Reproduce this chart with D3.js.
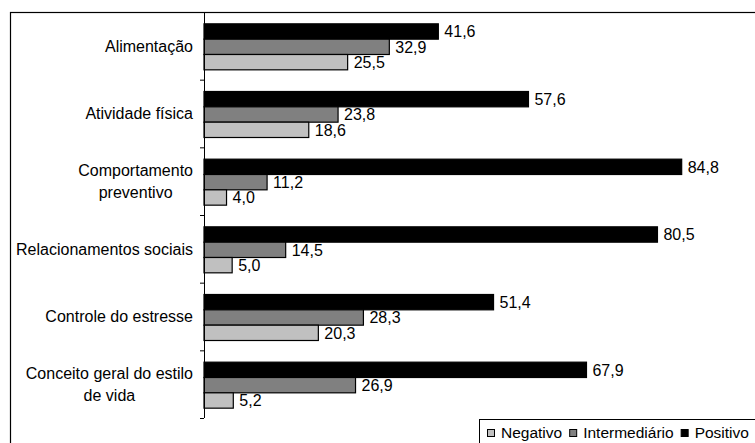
<!DOCTYPE html>
<html>
<head>
<meta charset="utf-8">
<script src="https://cdn.jsdelivr.net/npm/d3@7"></script>
<style>
  body { margin: 0; background: #fff; }
  text { font-family: "Liberation Sans", Arial, sans-serif; font-size: 16px; fill: #000; }
  text.leg { font-size: 15.5px; }
</style>
</head>
<body>
<svg id="chart" width="755" height="443"></svg>
<script>
// categories, top to bottom (line breaks as in the picture)
let categories = [
    ["Alimentação"],
    ["Atividade física"],
    ["Comportamento", "preventivo"],
    ["Relacionamentos sociais"],
    ["Controle do estresse"],
    ["Conceito geral do estilo", "de vida"]
];
let seriesNames = ["Positivo", "Intermediário", "Negativo"];
let positivo = [41.6, 57.6, 84.8, 80.5, 51.4, 67.9];
let intermediario = [32.9, 23.8, 11.2, 14.5, 28.3, 26.9];
let negativo = [25.5, 18.6, 4.0, 5.0, 20.3, 5.2];
let legendOrder = ["Negativo", "Intermediário", "Positivo"];

let colors = { "Positivo": "#000000", "Intermediário": "#808080", "Negativo": "#c0c0c0" };
let values = { "Positivo": positivo, "Intermediário": intermediario, "Negativo": negativo };

let svg = d3.select('#chart');

// outer frame, runs off the right and bottom of the picture
svg.append('rect')
    .attr('x', 10.5).attr('y', 12.5)
    .attr('width', 900).attr('height', 600)
    .attr('fill', 'none').attr('stroke', '#000').attr('stroke-width', 1.2);

let axisX = 204;
let x = d3.scaleLinear().domain([0, 100]).range([axisX, axisX + 563.3]);
let idx = d3.range(categories.length);
let y0 = d3.scaleBand().domain(idx).range([12, 418]);
let pad = (y0.bandwidth() - 46) / 2;
let y1 = d3.scaleBand().domain(seriesNames).range([pad + 1, y0.bandwidth() - pad + 1]);

let groups = svg.append('g').selectAll('g')
    .data(idx)
    .join('g')
    .attr('transform', i => `translate(0,${y0(i)})`);

groups.selectAll('rect')
    .data(i => seriesNames.map(s => ({ s: s, v: values[s][i] })))
    .join('rect')
    .attr('x', x(0))
    .attr('y', d => y1(d.s))
    .attr('width', d => x(d.v) - x(0))
    .attr('height', y1.bandwidth())
    .attr('fill', d => colors[d.s])
    .attr('stroke', '#000')
    .attr('stroke-width', 1.2);

groups.selectAll('text.val')
    .data(i => seriesNames.map(s => ({ s: s, v: values[s][i] })))
    .join('text')
    .classed('val', true)
    .attr('x', d => x(d.v) + 6)
    .attr('y', d => y1(d.s) + y1.bandwidth() / 2)
    .attr('dy', '0.36em')
    .text(d => d.v.toFixed(1).replace('.', ','));

// category labels: block right-aligned, lines centred
let lineH = 22;
groups.append('text')
    .classed('cat', true)
    .attr('text-anchor', 'middle')
    .each(function (i) {
        let lines = categories[i];
        let t = d3.select(this);
        let mid = y0.bandwidth() / 2;
        lines.forEach((ln, k) => {
            t.append('tspan')
                .attr('x', 0)
                .attr('y', mid + (k - (lines.length - 1) / 2) * lineH)
                .attr('dy', '0.36em')
                .text(ln);
        });
        let w = d3.max(t.selectAll('tspan').nodes(), n => n.getComputedTextLength());
        t.selectAll('tspan').attr('x', 193 - w / 2);
    });

// axis line and boundary ticks
svg.append('line')
    .attr('x1', axisX + 0.5).attr('x2', axisX + 0.5)
    .attr('y1', 12).attr('y2', 418)
    .attr('stroke', '#000');
svg.append('g').selectAll('line')
    .data(idx)
    .join('line')
    .attr('x1', axisX - 4).attr('x2', axisX)
    .attr('y1', i => y0(i) + y0.bandwidth() + 0.5)
    .attr('y2', i => y0(i) + y0.bandwidth() + 0.5)
    .attr('stroke', '#000');

// legend
let legend = svg.append('g');
legend.append('rect')
    .attr('x', 479.5).attr('y', 419.5)
    .attr('width', 400).attr('height', 100)
    .attr('fill', '#fff').attr('stroke', '#000');
let lx = 487;
legendOrder.forEach(s => {
    legend.append('rect')
        .attr('x', lx + 0.5).attr('y', 429.5)
        .attr('width', 7).attr('height', 7)
        .attr('fill', colors[s]).attr('stroke', '#000');
    let t = legend.append('text')
        .classed('leg', true)
        .attr('x', lx + 14).attr('y', 438)
        .text(s);
    lx = lx + 14 + t.node().getComputedTextLength() + 7;
});
</script>
</body>
</html>
